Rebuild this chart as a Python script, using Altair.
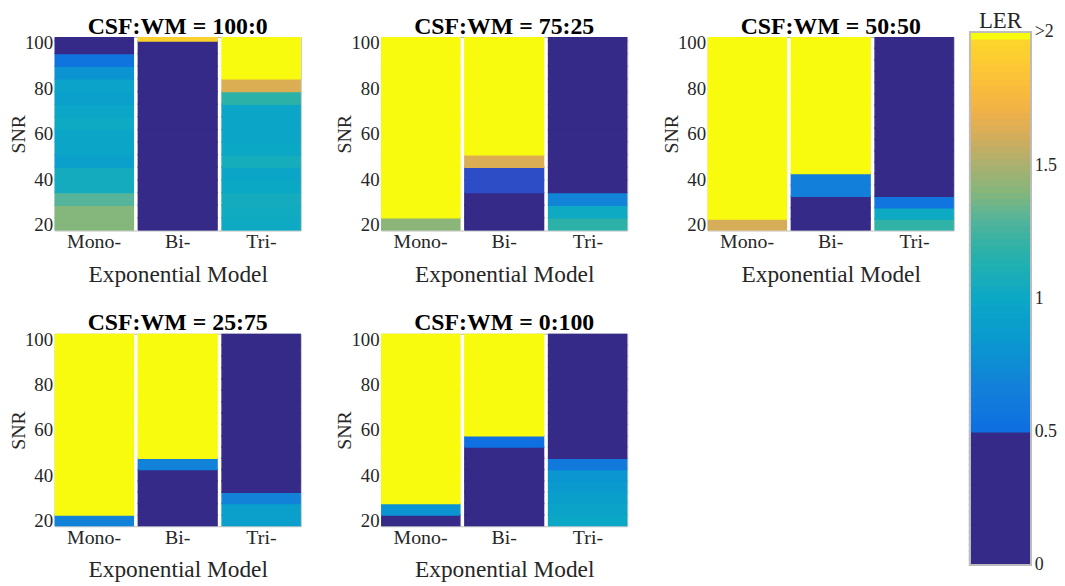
import altair as alt
import numpy as np
import pandas as pd

SERIF = "Liberation Serif"

models = ["Mono-", "Bi-", "Tri-"]
titles = ["CSF:WM = 100:0", "CSF:WM = 75:25", "CSF:WM = 50:50",
          "CSF:WM = 25:75", "CSF:WM = 0:100"]

# SNR levels (cell centres) - two grids appear in the figure
snr_coarse = [20.3, 25.8, 31.4, 36.9, 42.5, 48.0, 53.6, 59.1, 64.7, 70.2,
              75.8, 81.3, 86.9, 92.4, 98.0, 103.5]
snr_fine = [20, 25, 30, 35, 40, 45, 50, 55, 60, 65, 70, 75, 80, 85, 90, 95, 100]

# LER values, bottom (lowest SNR) to top; 2.5 stands for ">2"
p1_mono = [1.40, 1.40, 1.30, 1.05, 1.05, 0.92, 0.98, 0.97, 1.02, 0.98, 0.92, 0.95, 0.80, 0.55, 0.30, 0.30]
p1_bi = [0.25, 0.25, 0.25, 0.25, 0.25, 0.25, 0.25, 0.25, 0.25, 0.25, 0.25, 0.25, 0.25, 0.25, 0.25, 1.93]
p1_tri = [1.02, 1.03, 1.05, 1.00, 0.98, 1.06, 1.00, 0.98, 0.98, 0.97, 1.18, 1.64, 2.5, 2.5, 2.5, 2.5]

p2_mono = [1.42, 2.5, 2.5, 2.5, 2.5, 2.5, 2.5, 2.5, 2.5, 2.5, 2.5, 2.5, 2.5, 2.5, 2.5, 2.5]
p2_bi = [0.25, 0.25, 0.25, 0.495, 0.495, 1.64, 2.5, 2.5, 2.5, 2.5, 2.5, 2.5, 2.5, 2.5, 2.5, 2.5]
p2_tri = [1.18, 1.02, 0.70, 0.25, 0.25, 0.25, 0.25, 0.25, 0.25, 0.25, 0.25, 0.25, 0.25, 0.25, 0.25, 0.25]

p3_mono = [1.62, 2.5, 2.5, 2.5, 2.5, 2.5, 2.5, 2.5, 2.5, 2.5, 2.5, 2.5, 2.5, 2.5, 2.5, 2.5, 2.5]
p3_bi = [0.25, 0.25, 0.25, 0.65, 0.65, 2.5, 2.5, 2.5, 2.5, 2.5, 2.5, 2.5, 2.5, 2.5, 2.5, 2.5, 2.5]
p3_tri = [1.20, 1.02, 0.56, 0.25, 0.25, 0.25, 0.25, 0.25, 0.25, 0.25, 0.25, 0.25, 0.25, 0.25, 0.25, 0.25, 0.25]

p4_mono = [0.68, 2.5, 2.5, 2.5, 2.5, 2.5, 2.5, 2.5, 2.5, 2.5, 2.5, 2.5, 2.5, 2.5, 2.5, 2.5, 2.5]
p4_bi = [0.25, 0.25, 0.25, 0.25, 0.25, 0.68, 2.5, 2.5, 2.5, 2.5, 2.5, 2.5, 2.5, 2.5, 2.5, 2.5, 2.5]
p4_tri = [0.92, 0.92, 0.68, 0.25, 0.25, 0.25, 0.25, 0.25, 0.25, 0.25, 0.25, 0.25, 0.25, 0.25, 0.25, 0.25, 0.25]

p5_mono = [0.25, 0.80, 2.5, 2.5, 2.5, 2.5, 2.5, 2.5, 2.5, 2.5, 2.5, 2.5, 2.5, 2.5, 2.5, 2.5, 2.5]
p5_bi = [0.25, 0.25, 0.25, 0.25, 0.25, 0.25, 0.25, 0.52, 2.5, 2.5, 2.5, 2.5, 2.5, 2.5, 2.5, 2.5, 2.5]
p5_tri = [1.00, 0.96, 0.91, 0.86, 0.82, 0.60, 0.25, 0.25, 0.25, 0.25, 0.25, 0.25, 0.25, 0.25, 0.25, 0.25, 0.25]

panels = [
    (titles[0], snr_coarse, [p1_mono, p1_bi, p1_tri], 195),
    (titles[1], snr_coarse, [p2_mono, p2_bi, p2_tri], 195),
    (titles[2], snr_fine, [p3_mono, p3_bi, p3_tri], 195),
    (titles[3], snr_fine, [p4_mono, p4_bi, p4_tri], 194),
    (titles[4], snr_fine, [p5_mono, p5_bi, p5_tri], 194),
]

# colour map: navy below 0.5, parula-like 0.5..2, yellow for >2
cmap_domain = [0, 0.4899, 0.49, 0.4999, 0.5, 0.6, 0.7, 0.8, 0.9, 1.0, 1.1, 1.2,
               1.3, 1.4, 1.5, 1.6, 1.7, 1.8, 1.9, 1.9699, 1.97, 2.0]
cmap_range = ["#352a87", "#352a87", "#2c4dc6", "#2c4dc6", "#0d6ee2", "#1279dc",
              "#1284d8", "#0b93d2", "#0a9ecc", "#0ba8c6", "#1caeb6", "#30b2a6",
              "#55b49a", "#85b67b", "#a9b070", "#d0ac5c", "#efb048", "#fbbd3a",
              "#fccc31", "#fcd52b", "#f9fb0e", "#f9fb0e"]
color_scale = alt.Scale(domain=cmap_domain, range=cmap_range, clamp=True,
                        interpolate="rgb")


def edges(centres):
    c = np.asarray(centres, dtype=float)
    mids = (c[1:] + c[:-1]) / 2
    lo = np.concatenate([[c[0] - (c[1] - c[0]) / 2], mids])
    hi = np.concatenate([mids, [c[-1] + (c[-1] - c[-2]) / 2]])
    return lo, hi


def panel(title, snr, cols, h):
    lo, hi = edges(snr)
    rows = []
    for m, vals in zip(models, cols):
        for s, a, b, v in zip(snr, lo, hi, vals):
            rows.append({"model": m, "SNR": s, "lo": a, "hi": b, "LER": v})
    df = pd.DataFrame(rows)
    return alt.Chart(df, title=alt.Title(title, fontSize=24, font=SERIF,
                                         fontWeight="bold", anchor="middle",
                                         frame="group", offset=-5,
                                         color="black")).mark_rect(
        clip=True, strokeWidth=1.5).encode(
        x=alt.X("model:N", sort=models,
                scale=alt.Scale(paddingInner=0.06, paddingOuter=0),
                axis=alt.Axis(title="Exponential Model", labelAngle=0,
                              ticks=False, domain=False, labelPadding=1,
                              titlePadding=11)),
        y=alt.Y("lo:Q", scale=alt.Scale(domain=[17.5, 102.5], nice=False, zero=False),
                axis=alt.Axis(title="SNR", values=[20, 40, 60, 80, 100],
                              ticks=False, domain=False, labelPadding=2,
                              labelFontSize=19, titleFontSize=20,
                              titlePadding=-4, grid=False)),
        y2="hi:Q",
        color=alt.Color("LER:Q", scale=color_scale, legend=None),
        stroke=alt.Stroke("LER:Q", scale=color_scale, legend=None),
    ).properties(width=248, height=h)


charts = [panel(*p) for p in panels]

row1 = alt.hconcat(charts[0], charts[1], charts[2], spacing=33)
row2 = alt.hconcat(charts[3], charts[4], spacing=33)
grid = alt.vconcat(row1, row2, spacing=25)

# colourbar (legend) built as its own small chart
cb_lo = np.round(np.arange(0, 2, 0.025), 4)
cb_df = pd.DataFrame({"cb_lo": cb_lo, "cb_hi": cb_lo + 0.025, "LER": cb_lo + 0.0125})
cb_shift = -5
cb_bins = alt.Chart(cb_df).mark_rect(
    strokeWidth=1.5, yOffset=cb_shift, y2Offset=cb_shift).encode(
    x=alt.value(0), x2=alt.value("width"),
    y=alt.Y("cb_lo:Q", scale=alt.Scale(domain=[0, 2], nice=False, zero=True),
            axis=alt.Axis(orient="right", values=[0, 0.5, 1, 1.5, 2], format="~g",
                          labelExpr="datum.value >= 2 ? '>2' : datum.label",
                          title=None, ticks=False, domain=False, grid=False,
                          labelPadding=3, labelFontSize=18,
                          labelOffset=cb_shift)),
    y2="cb_hi:Q",
    color=alt.Color("LER:Q", scale=color_scale, legend=None),
    stroke=alt.Stroke("LER:Q", scale=color_scale, legend=None),
)
cb_border = alt.Chart(cb_df).mark_rect(
    fillOpacity=0, stroke="#bdbdbd", strokeWidth=1,
    yOffset=cb_shift, y2Offset=cb_shift).encode(
    x=alt.value(0), x2=alt.value("width"),
    y=alt.YDatum(0), y2=alt.Y2Datum(2),
)
colorbar = alt.layer(cb_bins, cb_border).properties(
    width=62, height=537,
    title=alt.Title("LER", fontSize=23, font=SERIF, fontWeight="normal",
                    anchor="middle", frame="group", offset=-10, color="#262626"),
    view=alt.ViewBackground(stroke=None),
)

chart = alt.hconcat(grid, colorbar, spacing=14).resolve_scale(
    x="independent", y="independent", color="shared", stroke="shared"
).properties(
    padding={"left": 0, "top": 0, "right": 0, "bottom": 0}
).configure_view(
    stroke="#bdbdbd", strokeWidth=1
).configure_axis(
    labelFont=SERIF, titleFont=SERIF, labelFontSize=20, titleFontSize=23.5,
    labelColor="#262626", titleColor="#262626", titleFontWeight="normal",
    grid=False
)

chart.save("out.html", embed_options={"renderer": "svg", "actions": False})
